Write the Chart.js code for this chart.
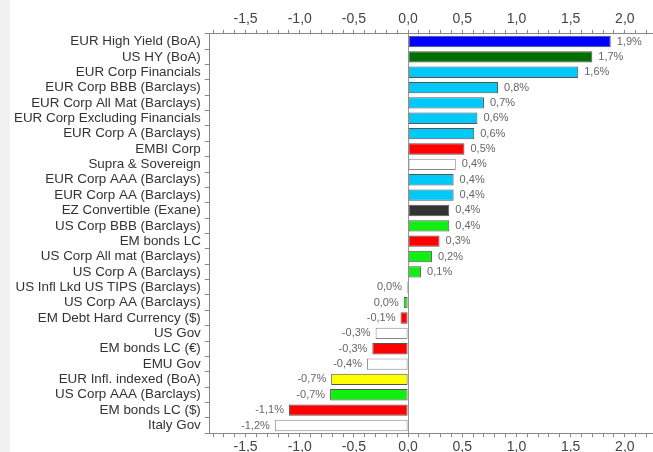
<!DOCTYPE html>
<html>
<head>
<meta charset="utf-8">
<script src="https://cdn.jsdelivr.net/npm/chart.js@4.4.0/dist/chart.umd.min.js"></script>
<style>
  html, body { margin: 0; padding: 0; background: #ffffff; overflow: hidden; }
  #wrap { position: relative; width: 643px; height: 458px; border-left: 10px solid #f1f1f1; background: #fff; }
</style>
</head>
<body>
<div id="wrap"><canvas id="myChart" width="643" height="458"></canvas></div>
<script>
const labels = [
  "EUR High Yield (BoA)", "US HY (BoA)", "EUR Corp Financials", "EUR Corp BBB (Barclays)",
  "EUR Corp All Mat (Barclays)", "EUR Corp Excluding Financials", "EUR Corp A (Barclays)",
  "EMBI Corp", "Supra & Sovereign", "EUR Corp AAA (Barclays)", "EUR Corp AA (Barclays)",
  "EZ Convertible (Exane)", "US Corp BBB (Barclays)", "EM bonds LC", "US Corp All mat (Barclays)",
  "US Corp A (Barclays)", "US Infl Lkd US TIPS (Barclays)", "US Corp AA (Barclays)",
  "EM Debt Hard Currency ($)", "US Gov", "EM bonds LC (€)", "EMU Gov", "EUR Infl. indexed (BoA)",
  "US Corp AAA (Barclays)", "EM bonds LC ($)", "Italy Gov"
];

// performance in %
const perf = [
  1.87, 1.70, 1.57, 0.83, 0.70, 0.64, 0.61, 0.52, 0.44, 0.42, 0.42, 0.38, 0.38,
  0.29, 0.22, 0.12, -0.01, -0.04, -0.07, -0.30, -0.33, -0.38, -0.71, -0.72, -1.10, -1.23
];

const barColors = [
  "#0000ff", "#006f00", "#00c8f8", "#00c8f8", "#00c8f8", "#00c8f8", "#00c8f8",
  "#ff0000", "#ffffff", "#00c8f8", "#00c8f8", "#333333", "#11ee11", "#ff0000",
  "#11ee11", "#11ee11", "#b8a860", "#11ee11", "#ff0000", "#ffffff", "#ff0000",
  "#ffffff", "#ffff00", "#11ee11", "#ff0000", "#ffffff"
];

const xMin = -1.83;
const xMax = 2.26;

function fmt(v) {
  let s = Math.abs(v).toFixed(1);
  if (v < 0 && s !== "0.0") s = "-" + s;
  return s.replace(".", ",");
}

// value labels next to each bar
const barLabels = {
  id: "barLabels",
  afterDatasetsDraw(chart) {
    const c = chart.ctx;
    const meta = chart.getDatasetMeta(0);
    c.save();
    c.font = "11px 'Liberation Sans', Arial, sans-serif";
    c.fillStyle = "#666";
    c.textBaseline = "middle";
    meta.data.forEach((bar, i) => {
      const v = perf[i];
      const txt = fmt(v) + "%";
      if (v >= 0) {
        c.textAlign = "left";
        c.fillText(txt, bar.x + 6, bar.y);
      } else {
        c.textAlign = "right";
        c.fillText(txt, bar.x - 5, bar.y);
      }
    });
    c.restore();
  }
};

function tickLabel(value) {
  const r = Math.round(value * 10);
  if (r % 5 !== 0) return "";
  return fmt(r / 10);
}

const xAxis = (pos) => ({
  type: "linear",
  position: pos,
  min: xMin,
  max: xMax,
  border: { display: true, color: "#888", width: 1 },
  grid: {
    drawOnChartArea: pos === "bottom",
    color: (ctx) => (ctx.tick && Math.abs(ctx.tick.value) < 1e-9 ? "#999" : "rgba(0,0,0,0)"),
    tickColor: "#888",
    tickLength: 4
  },
  ticks: {
    stepSize: 0.1,
    includeBounds: false,
    autoSkip: false,
    maxRotation: 0,
    padding: 2,
    color: "#444",
    font: { size: 14, family: "'Liberation Sans', Arial, sans-serif" },
    callback: tickLabel
  }
});

new Chart(document.getElementById("myChart"), {
  type: "bar",
  data: {
    labels: labels,
    datasets: [{
      data: perf,
      backgroundColor: barColors,
      borderColor: barColors.map(c => c === "#ffffff" ? "#888" : "#555"),
      borderWidth: 1,
      borderSkipped: false,
      barPercentage: 0.74,
      categoryPercentage: 1.0
    }]
  },
  options: {
    indexAxis: "y",
    responsive: false,
    animation: false,
    layout: { padding: { top: 9, bottom: 0, left: 0, right: 0 } },
    plugins: {
      legend: { display: false },
      tooltip: { enabled: false }
    },
    scales: {
      x: xAxis("bottom"),
      x2: xAxis("top"),
      y: {
        type: "category",
        offset: true,
        border: { display: true, color: "#888", width: 1 },
        grid: { drawOnChartArea: false, tickColor: "#888", tickLength: 5 },
        ticks: {
          autoSkip: false,
          padding: 4,
          color: "#333",
          font: { size: 13.4, family: "'Liberation Sans', Arial, sans-serif" }
        }
      }
    }
  },
  plugins: [barLabels]
});
</script>
</body>
</html>
